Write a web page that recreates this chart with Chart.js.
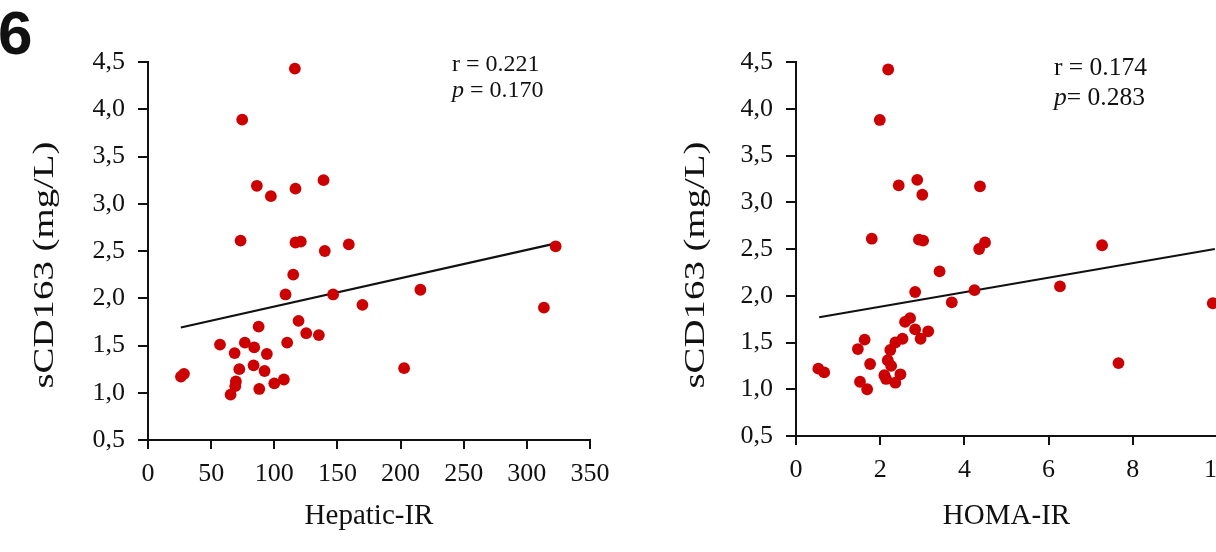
<!DOCTYPE html>
<html>
<head>
<meta charset="utf-8">
<script src="https://cdn.jsdelivr.net/npm/chart.js@4.4.1/dist/chart.umd.min.js"></script>
<style>
  html, body { margin: 0; padding: 0; background: #fff; overflow: hidden; width: 1216px; height: 552px; }
  #wrap { position: relative; width: 1216px; height: 552px; overflow: hidden; }
  canvas { position: absolute; top: 0; }
  #c1 { left: 0; }
  #c2 { left: 640px; }
</style>
</head>
<body>
<div id="wrap">
  <canvas id="c1" width="640" height="552"></canvas>
  <canvas id="c2" width="620" height="552"></canvas>
</div>
<script>
// ---------- DATA ----------
const hepaticIR = [116.3, 74.6, 86.2, 97.3, 116.8, 139, 73.3, 116.8, 121, 140, 159, 115, 108.9, 146.6, 169.8, 215.7, 313.5, 322.8, 202.8, 87.6,
                   119.2, 125.3, 135.3, 57, 76.7, 84.1, 68.6, 94.1, 110.2, 72.3, 83.6, 92.3, 26.1, 28.5, 69.6, 69.1, 65.4, 88.1, 100, 107.6];
const sCD163Hepatic = [4.43, 3.89, 3.19, 3.08, 3.16, 3.25, 2.61, 2.59, 2.60, 2.50, 2.57, 2.25, 2.04, 2.04, 1.93, 2.09, 1.90, 2.55, 1.26, 1.70,
                       1.76, 1.63, 1.61, 1.51, 1.53, 1.48, 1.42, 1.41, 1.53, 1.25, 1.29, 1.23, 1.17, 1.20, 1.12, 1.07, 0.98, 1.04, 1.10, 1.14];
const homaIR = [2.19, 1.99, 2.44, 2.88, 3.00, 4.37, 1.80, 2.92, 3.02, 4.35, 4.49, 3.41, 2.83, 4.24, 3.70, 2.59, 2.71, 2.83, 3.14, 2.96,
                2.53, 2.36, 2.24, 1.63, 1.47, 2.18, 2.26, 1.76, 0.53, 0.67, 2.10, 2.14, 2.48, 2.36, 1.52, 1.69, 7.27, 6.27, 9.90, 7.66];
const sCD163Homa = [4.42, 3.88, 3.18, 3.24, 3.08, 3.17, 2.61, 2.60, 2.59, 2.50, 2.57, 2.26, 2.04, 2.06, 1.93, 1.72, 1.76, 1.64, 1.62, 1.54,
                    1.54, 1.50, 1.42, 1.53, 1.43, 1.31, 1.25, 1.27, 1.22, 1.18, 1.15, 1.11, 1.16, 1.07, 1.08, 1.00, 2.54, 2.10, 1.92, 1.28];
const hepaticFitX = [26, 323];
const hepaticFitY = [1.69, 2.58];
const homaFitX = [0.55, 9.95];
const homaFitY = [1.77, 2.50];
const yTickValues = [0.5, 1.0, 1.5, 2.0, 2.5, 3.0, 3.5, 4.0, 4.5];
const hepaticXTicks = [0, 50, 100, 150, 200, 250, 300, 350];
const homaXTicks = [0, 2, 4, 6, 8, 10];
const yTitle = 'sCD163 (mg/L)';
const leftXTitle = 'Hepatic-IR';
const rightXTitle = 'HOMA-IR';
const leftStats = ['r = 0.221', '0.170', ' = '];
const rightStats = ['r = 0.174', '0.283', '= '];
const panelLabel = '6';

// ---------- HELPERS ----------
const INK = '#111';
const RED = '#cc0000';
const SERIF = '"Liberation Serif", "Times New Roman", serif';
const pts = (xs, ys) => xs.map((x, i) => ({ x, y: ys[i] }));
const fmtComma = v => v.toFixed(1).replace('.', ',');

function annotate(opts) {
  return {
    id: 'annot',
    afterDraw(chart) {
      const ctx = chart.ctx;
      ctx.save();
      ctx.fillStyle = INK;
      // vertical title (slightly stretched along its length, as in the source figure)
      ctx.save();
      ctx.translate(opts.yTitleX, opts.yTitleY);
      ctx.rotate(-Math.PI / 2);
      ctx.font = '30px ' + SERIF;
      const w = ctx.measureText(yTitle).width;
      ctx.scale(opts.yTitleLen / w, 1);
      ctx.textAlign = 'center';
      ctx.textBaseline = 'middle';
      ctx.fillText(yTitle, 0, 0);
      ctx.restore();
      // stats
      ctx.font = opts.statFont + 'px ' + SERIF;
      ctx.textAlign = 'left';
      ctx.textBaseline = 'middle';
      ctx.fillText(opts.stats[0], opts.statX, opts.statY1);
      ctx.font = 'italic ' + opts.statFont + 'px ' + SERIF;
      ctx.fillText('p', opts.statX, opts.statY2);
      let x = opts.statX + ctx.measureText('p').width;
      ctx.font = opts.statFont + 'px ' + SERIF;
      ctx.fillText(opts.stats[2] + opts.stats[1], x, opts.statY2);
      if (opts.panel) {
        ctx.font = 'bold 62px "Liberation Sans", Arial, sans-serif';
        ctx.textBaseline = 'alphabetic';
        ctx.fillText(panelLabel, -2, 54);
      }
      ctx.restore();
    }
  };
}

function makeChart(id, cfg) {
  const xTicks = cfg.xTicks;
  return new Chart(document.getElementById(id), {
    type: 'scatter',
    data: {
      datasets: [
        {
          data: pts(cfg.xs, cfg.ys),
          backgroundColor: RED,
          borderColor: RED,
          borderWidth: 0,
          pointRadius: 5.9,
          pointHoverRadius: 5.9,
          clip: false
        },
        {
          data: pts(cfg.fitX, cfg.fitY),
          showLine: true,
          borderColor: INK,
          borderWidth: 2.2,
          pointRadius: 0,
          fill: false,
          clip: false
        }
      ]
    },
    options: {
      responsive: false,
      animation: false,
      devicePixelRatio: 1,
      events: [],
      layout: { padding: { top: cfg.top, right: cfg.padRight, bottom: 0, left: 0 } },
      plugins: { legend: { display: false }, tooltip: { enabled: false } },
      scales: {
        x: {
          type: 'linear',
          min: xTicks[0],
          max: xTicks[xTicks.length - 1],
          afterFit: s => { s.height = cfg.xHeight; },
          afterBuildTicks: s => { s.ticks = xTicks.map(v => ({ value: v })); },
          ticks: {
            autoSkip: false,
            maxRotation: 0,
            color: INK,
            font: { family: SERIF, size: 26 },
            padding: 10,
            callback: v => String(v)
          },
          grid: { drawOnChartArea: false, drawTicks: true, tickLength: 9, color: INK, lineWidth: 2 },
          border: { display: true, color: INK, width: 2 },
          title: {
            display: true,
            text: cfg.xTitle,
            color: INK,
            font: { family: SERIF, size: 29 },
            padding: { top: 0, bottom: 18 }
          }
        },
        y: {
          type: 'linear',
          min: 0.5,
          max: 4.5,
          afterFit: s => { s.width = cfg.yWidth; },
          afterBuildTicks: s => { s.ticks = yTickValues.map(v => ({ value: v })); },
          ticks: {
            color: INK,
            font: { family: SERIF, size: 26 },
            padding: 13,
            callback: v => fmtComma(v)
          },
          grid: { drawOnChartArea: false, drawTicks: true, tickLength: 10, color: INK, lineWidth: 2 },
          border: { display: true, color: INK, width: 2 }
        }
      }
    },
    plugins: [annotate(cfg.annot)]
  });
}

makeChart('c1', {
  xs: hepaticIR, ys: sCD163Hepatic, fitX: hepaticFitX, fitY: hepaticFitY,
  xTicks: hepaticXTicks, xTitle: leftXTitle,
  top: 62, padRight: 50, xHeight: 112, yWidth: 148,
  annot: { yTitleX: 45, yTitleY: 265, yTitleLen: 247, stats: leftStats, statFont: 24,
           statX: 452, statY1: 65, statY2: 91, panel: true }
});

makeChart('c2', {
  xs: homaIR, ys: sCD163Homa, fitX: homaFitX, fitY: homaFitY,
  xTicks: homaXTicks, xTitle: rightXTitle,
  top: 62, padRight: 43, xHeight: 116, yWidth: 156,
  annot: { yTitleX: 56, yTitleY: 265, yTitleLen: 247, stats: rightStats, statFont: 25.5,
           statX: 414, statY1: 68, statY2: 98, panel: false }
});
</script>
</body>
</html>
